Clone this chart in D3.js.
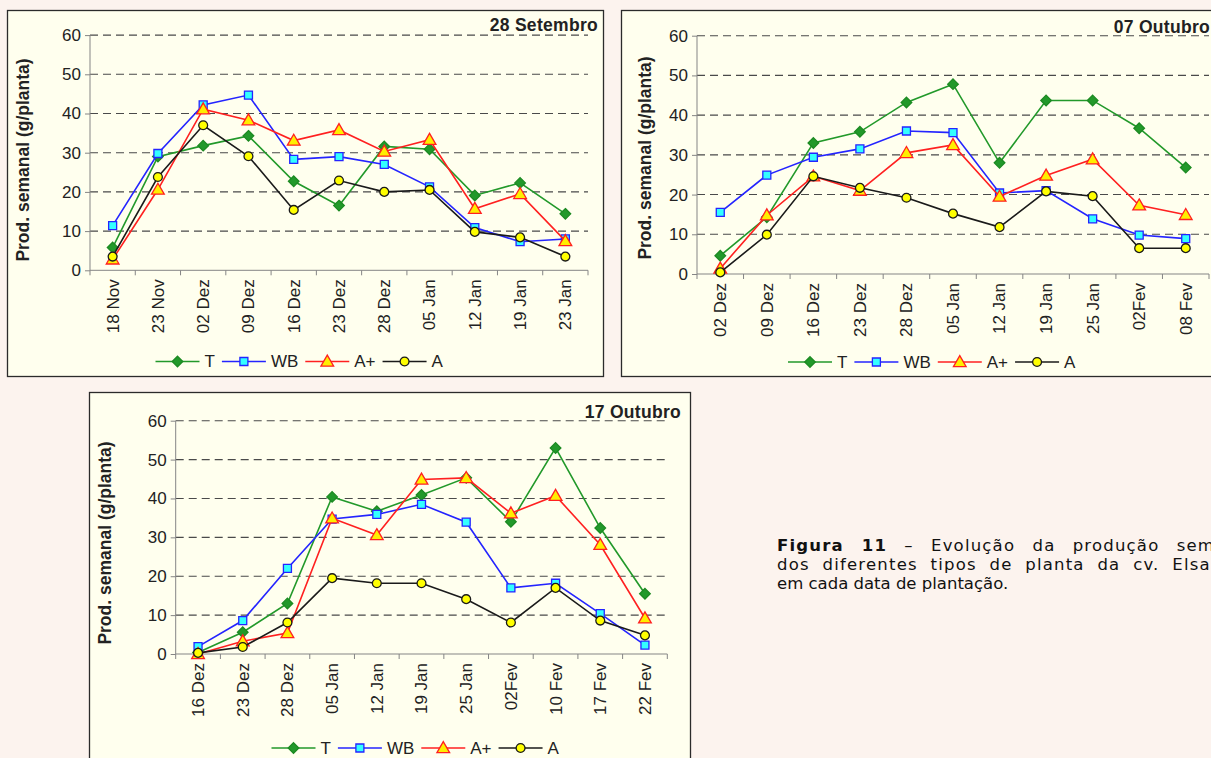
<!DOCTYPE html>
<html>
<head>
<meta charset="utf-8">
<script src="https://cdn.jsdelivr.net/npm/d3@7"></script>
<style>
  html, body { margin: 0; padding: 0; background: #fcf3ee; }
  svg { display: block; }
</style>
</head>
<body>
<svg id="fig" width="1211" height="758"></svg>
<script>
// Weekly yield (g/plant) per plant type, cv. Elsanta, for three planting dates
const seriesNames = ["T", "WB", "A+", "A"];
const yTicks = [0, 10, 20, 30, 40, 50, 60];

// Planting 28 Setembro
const cats28Set = ["18 Nov", "23 Nov", "02 Dez", "09 Dez", "16 Dez", "23 Dez", "28 Dez", "05 Jan", "12 Jan", "19 Jan", "23 Jan"];
const t28Set   = [5.8, 29.0, 31.8, 34.3, 22.7, 16.5, 31.6, 30.9, 19.1, 22.3, 14.4];
const wb28Set  = [11.4, 29.8, 42.2, 44.7, 28.3, 29.0, 27.0, 21.3, 10.9, 7.3, 8.0];
const ap28Set  = [2.8, 20.6, 41.1, 38.3, 33.1, 35.8, 30.3, 33.3, 15.7, 19.5, 7.5];
const a28Set   = [3.5, 23.8, 37.0, 29.1, 15.4, 22.9, 20.0, 20.5, 9.8, 8.4, 3.5];

// Planting 07 Outubro
const cats07Out = ["02 Dez", "09 Dez", "16 Dez", "23 Dez", "28 Dez", "05 Jan", "12 Jan", "19 Jan", "25 Jan", "02Fev", "08 Fev"];
const t07Out   = [4.6, 14.3, 33.0, 35.8, 43.2, 47.8, 28.0, 43.7, 43.7, 36.7, 26.8];
const wb07Out  = [15.5, 24.9, 29.4, 31.5, 36.0, 35.6, 20.4, 21.0, 13.9, 9.8, 8.9];
const ap07Out  = [1.4, 14.8, 24.6, 21.0, 30.5, 32.5, 19.5, 24.8, 28.9, 17.3, 14.9];
const a07Out   = [0.4, 9.9, 24.6, 21.7, 19.2, 15.2, 11.8, 20.8, 19.6, 6.5, 6.5];

// Planting 17 Outubro
const cats17Out = ["16 Dez", "23 Dez", "28 Dez", "05 Jan", "12 Jan", "19 Jan", "25 Jan", "02Fev", "10 Fev", "17 Fev", "22 Fev"];
const t17Out   = [0.4, 5.6, 13.0, 40.4, 36.7, 40.9, 45.3, 34.0, 53.0, 32.4, 15.5];
const wb17Out  = [1.9, 8.6, 22.0, 34.7, 35.9, 38.5, 33.9, 17.0, 18.2, 10.4, 2.3];
const ap17Out  = [0.0, 3.3, 5.4, 34.9, 30.6, 44.9, 45.3, 36.2, 40.7, 28.1, 9.2];
const a17Out   = [0.3, 1.8, 8.1, 19.5, 18.2, 18.2, 14.1, 8.1, 17.0, 8.6, 4.8];

// square diamond marker (a square turned by 45 degrees)
const symbolDiamondSq = {
  draw(context, size) {
    const r = Math.sqrt(size / 2);
    context.moveTo(0, -r); context.lineTo(r, 0); context.lineTo(0, r); context.lineTo(-r, 0);
    context.closePath();
  }
};

const styles = {
  "T":  { line: "#22992a", fill: "#22992a", stroke: "#1c8a22", symbol: symbolDiamondSq, size: 56 },
  "WB": { line: "#2424ff", fill: "#33ffff", stroke: "#2424ff", symbol: d3.symbolSquare, size: 64 },
  "A+": { line: "#ff2020", fill: "#ffee00", stroke: "#ff2020", symbol: d3.symbolTriangle, size: 70 },
  "A":  { line: "#1a1a1a", fill: "#ffff00", stroke: "#1a1a1a", symbol: d3.symbolCircle, size: 62 }
};

const charts = [
  { title: "28 Setembro", cats: cats28Set, values: [t28Set, wb28Set, ap28Set, a28Set],
    box: { x: 7.5, y: 10.5, w: 596, h: 366 },
    plot: { left: 90, right: 588, bottom: 270.3, top: 35.1 },
    titleX: 598, titleY: 31, yTitleX: 23, yTitleY: 160, legendX: 155.5, legendY: 361.5 },
  { title: "07 Outubro", cats: cats07Out, values: [t07Out, wb07Out, ap07Out, a07Out],
    box: { x: 621.5, y: 10.5, w: 640, h: 366 },
    plot: { left: 697, right: 1209, bottom: 274, top: 35.7 },
    titleX: 1210, titleY: 33, yTitleX: 645, yTitleY: 158, legendX: 788, legendY: 362 },
  { title: "17 Outubro", cats: cats17Out, values: [t17Out, wb17Out, ap17Out, a17Out],
    box: { x: 89.5, y: 392.5, w: 601, h: 400 },
    plot: { left: 175.7, right: 667.3, bottom: 654, top: 420.7 },
    titleX: 681, titleY: 418, yTitleX: 105, yTitleY: 543, legendX: 271.5, legendY: 748 }
];

const svg = d3.select("#fig");
const FONT = "'Liberation Sans', Arial, sans-serif";

function drawChart(cfg) {
  const g = svg.append("g");

  g.append("rect")
    .attr("x", cfg.box.x).attr("y", cfg.box.y)
    .attr("width", cfg.box.w).attr("height", cfg.box.h)
    .attr("fill", "#ffffee").attr("stroke", "#2b2b2b").attr("stroke-width", 1.3);

  const x = d3.scaleBand().domain(cfg.cats).range([cfg.plot.left, cfg.plot.right]);
  const y = d3.scaleLinear().domain([0, 60]).range([cfg.plot.bottom, cfg.plot.top]);

  // dashed gridlines
  g.append("g").selectAll("line")
    .data(yTicks.filter(v => v > 0))
    .join("line")
    .attr("x1", cfg.plot.left).attr("x2", cfg.plot.right)
    .attr("y1", d => y(d)).attr("y2", d => y(d))
    .attr("stroke", "#4a4a4a").attr("stroke-width", 1.1)
    .attr("stroke-dasharray", "8,5");

  // y axis
  const yAxis = g.append("g")
    .attr("transform", `translate(${cfg.plot.left},0)`)
    .call(d3.axisLeft(y).tickValues(yTicks).tickSize(5).tickPadding(4));
  yAxis.select(".domain").attr("stroke", "#858585").attr("d", `M0,${y(0)}V${y(60)}`);
  yAxis.selectAll(".tick line").attr("stroke", "#858585");
  yAxis.selectAll(".tick text")
    .attr("font-family", FONT).attr("font-size", 17).attr("fill", "#222");

  // x axis: ticks on band boundaries, labels rotated
  const xAxis = g.append("g")
    .attr("transform", `translate(0,${cfg.plot.bottom})`)
    .call(d3.axisBottom(x).tickSize(0).tickPadding(0));
  xAxis.select(".domain").attr("stroke", "#858585")
    .attr("d", `M${cfg.plot.left},0H${cfg.plot.right}`);
  const bounds = cfg.cats.map(c => x(c)).concat([x.range()[1]]);
  xAxis.selectAll(".bound").data(bounds).join("line")
    .attr("class", "bound")
    .attr("x1", d => d).attr("x2", d => d)
    .attr("y1", 0).attr("y2", 5)
    .attr("stroke", "#858585");
  xAxis.selectAll(".tick text")
    .attr("font-family", FONT).attr("font-size", 17).attr("fill", "#222")
    .attr("text-anchor", "end")
    .attr("transform", "translate(0,9) rotate(-90)")
    .attr("x", 0).attr("y", 0).attr("dy", "0.35em");

  // series lines and markers
  cfg.values.forEach((vals, i) => {
    const name = seriesNames[i];
    const st = styles[name];
    const pts = cfg.cats.map((c, j) => [x(c) + x.bandwidth() / 2, y(vals[j])]);
    g.append("path")
      .attr("d", d3.line()(pts))
      .attr("fill", "none").attr("stroke", st.line).attr("stroke-width", 1.6);
    const sym = d3.symbol().type(st.symbol).size(st.size);
    g.append("g").selectAll("path")
      .data(pts).join("path")
      .attr("d", sym)
      .attr("transform", d => `translate(${d[0]},${d[1] + (name === "A+" ? 1 : 0)})`)
      .attr("fill", st.fill).attr("stroke", st.stroke).attr("stroke-width", 1.3);
  });

  // axis title and chart title
  g.append("text")
    .attr("transform", `translate(${cfg.yTitleX},${cfg.yTitleY}) rotate(-90)`)
    .attr("text-anchor", "middle").attr("dy", "0.35em")
    .attr("font-family", FONT).attr("font-size", 17.5).attr("font-weight", "bold")
    .attr("fill", "#222")
    .text("Prod. semanal (g/planta)");

  g.append("text")
    .attr("x", cfg.titleX).attr("y", cfg.titleY)
    .attr("text-anchor", "end")
    .attr("font-family", FONT).attr("font-size", 17.5).attr("font-weight", "bold")
    .attr("letter-spacing", 0.3)
    .attr("fill", "#222")
    .text(cfg.title);

  // legend
  let lx = cfg.legendX;
  seriesNames.forEach(name => {
    const st = styles[name];
    const lg = g.append("g");
    lg.append("line")
      .attr("x1", lx).attr("x2", lx + 44)
      .attr("y1", cfg.legendY).attr("y2", cfg.legendY)
      .attr("stroke", st.line).attr("stroke-width", 1.6);
    lg.append("path")
      .attr("d", d3.symbol().type(st.symbol).size(st.size)())
      .attr("transform", `translate(${lx + 22},${cfg.legendY + (name === "A+" ? 1 : 0)})`)
      .attr("fill", st.fill).attr("stroke", st.stroke).attr("stroke-width", 1.3);
    const t = lg.append("text")
      .attr("x", lx + 49).attr("y", cfg.legendY).attr("dy", "0.35em")
      .attr("font-family", FONT).attr("font-size", 17).attr("fill", "#222")
      .text(name);
    lx += 49 + t.node().getComputedTextLength() + 7;
  });
}

charts.forEach(drawChart);

// figure caption (justified lines, last line left as is)
const cap = svg.append("text")
  .attr("font-family", "'DejaVu Sans', Verdana, sans-serif")
  .attr("font-size", 16.5).attr("fill", "#111");
const l1 = cap.append("tspan").attr("x", 777).attr("y", 551)
  .attr("letter-spacing", 1.2).attr("word-spacing", 10.8);
l1.append("tspan").attr("font-weight", "bold").text("Figura 11");
l1.append("tspan").text(" – Evolução da produção semanal");
cap.append("tspan").attr("x", 777).attr("y", 570)
  .attr("letter-spacing", 1.2).attr("word-spacing", 6.3)
  .text("dos diferentes tipos de planta da cv. Elsanta");
cap.append("tspan").attr("x", 777).attr("y", 589)
  .attr("letter-spacing", 0).attr("word-spacing", 0)
  .text("em cada data de plantação.");
</script>
</body>
</html>
